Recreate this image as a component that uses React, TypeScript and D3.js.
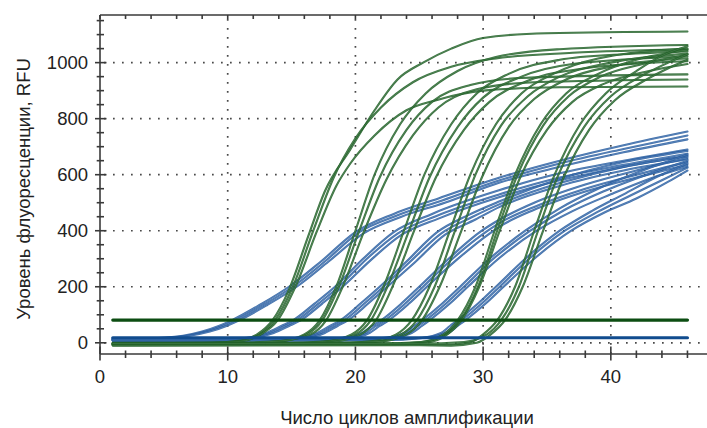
import React from "react";
import * as d3 from "d3";

type Pt = [number, number];

// ---------- axis / tick data ----------
const xTicks = [0, 10, 20, 30, 40];
const xMinorTicks = [2, 4, 6, 8, 12, 14, 16, 18, 22, 24, 26, 28, 32, 34, 36, 38, 42, 44, 46];
const yTicks = [0, 200, 400, 600, 800, 1000];
const yMinorTicks = [50, 100, 150, 250, 300, 350, 450, 500, 550, 650, 700, 750, 850, 900, 950, 1050, 1100, 1150];
const xTitle = "Число циклов амплификации";
const yTitle = "Уровень флуоресценции, RFU";

// ---------- thresholds ----------
const greenThreshold = 81;
const blueThreshold = 18;
const thresholdCycles = [1, 46];

// ---------- green (steep) amplification curves: [cycle, RFU] ----------
const greenA: Pt[][] = [
  [[1,-4],[8,-2],[11,8],[12.3,30],[13.5,80],[14.8,190],[16.3,380],[17.6,540],[19.6,690],[21.5,830],[23.3,940],[25.3,1000],[27.5,1050],[30,1088],[35,1105],[46,1111]],
  [[1,-8],[8,-5],[11,6],[12.5,30],[13.7,80],[15.1,200],[16.7,400],[18.3,590],[20,730],[22,840],[24.5,930],[27.5,985],[31,1015],[37,1035],[46,1048]],
  [[1,-2],[8,0],[11,5],[12.6,30],[13.9,80],[15.3,200],[17,400],[18.5,560],[19.6,640],[21.5,740],[24,830],[26.4,867],[30,900],[36,912],[46,915]],
];
const greenB: Pt[][] = [
  [[1,-3],[11,-2],[14,5],[16,30],[17.2,80],[18.5,200],[20,400],[21.5,600],[23.5,780],[25.5,890],[28,970],[31,1020],[36,1048],[46,1063]],
  [[1,-6],[11,-4],[14,4],[16.2,30],[17.4,80],[18.7,200],[20.3,400],[21.9,590],[24,760],[26,860],[29,920],[33,945],[46,958]],
  [[1,0],[11,1],[14,6],[16.5,30],[17.7,80],[19,200],[20.7,400],[22.4,580],[24.5,740],[26.5,840],[29.5,905],[34,930],[46,940]],
];
const greenC: Pt[][] = [
  [[1,-5],[14,-4],[17.5,4],[19.7,30],[20.9,80],[22.2,200],[23.8,400],[25.4,600],[27.5,780],[29.5,890],[32,960],[36,1010],[41,1030],[46,1040]],
  [[1,-2],[14,-1],[17.8,5],[20,30],[21.2,80],[22.5,200],[24.2,400],[25.8,590],[28,770],[30,875],[33,950],[37,995],[46,1022]],
  [[1,-9],[14,-7],[18.2,3],[20.4,30],[21.6,80],[22.9,200],[24.6,400],[26.3,590],[28.5,760],[30.5,860],[33.5,935],[38,980],[46,1005]],
];
const greenD: Pt[][] = [
  [[1,-3],[18,-3],[21.2,5],[23.2,30],[24.4,80],[25.8,200],[27.4,400],[29,600],[31,780],[33,890],[35.5,960],[39,1015],[46,1050]],
  [[1,-6],[18,-5],[21.6,3],[23.6,30],[24.8,80],[26.2,200],[27.8,400],[29.4,600],[31.4,775],[33.5,880],[36,950],[40,1000],[46,1032]],
  [[1,-1],[18,0],[22,5],[24,30],[25.2,80],[26.6,200],[28.3,400],[29.9,590],[32,770],[34,870],[36.5,940],[40.5,990],[46,1015]],
];
const greenE: Pt[][] = [
  [[1,-4],[22,-5],[25,2],[26.9,30],[28,80],[29.4,200],[30.9,400],[32.5,600],[34.5,780],[36.5,890],[39,960],[42,1010],[46,1045]],
  [[1,-2],[22,-2],[25.2,3],[27.1,30],[28.2,80],[29.6,200],[31.1,400],[32.7,600],[34.7,775],[36.7,880],[39.2,950],[42.5,995],[46,1028]],
  [[1,-7],[22,-8],[25.5,0],[27.2,30],[28.3,80],[29.7,200],[31.3,400],[32.9,590],[35,760],[37,860],[39.5,925],[43,970],[46,995]],
];
const greenF: Pt[][] = [
  [[1,-5],[25,-6],[27,-8],[29,2],[30,30],[31.1,80],[32.5,200],[34,400],[35.6,600],[37.6,780],[39.6,890],[42,970],[44,1025],[46,1058]],
  [[1,-3],[25,-3],[28.5,3],[30.3,30],[31.4,80],[32.8,200],[34.3,400],[35.9,600],[37.9,770],[40,880],[42.5,955],[44.5,1000],[46,1030]],
  [[1,-10],[25,-9],[27.5,-10],[29.5,0],[30.6,30],[31.7,80],[33.1,200],[34.7,400],[36.3,590],[38.3,760],[40.3,865],[42.8,940],[44.5,980],[46,1010]],
];

// ---------- blue (shallow) amplification curves: [cycle, RFU] ----------
const blue1: Pt[][] = [
  [[1,14],[3,15],[5,18],[6.5,25],[8,40],[9.3,60],[10.3,80],[12.5,135],[14.8,200],[17.3,290],[20,395],[23,460],[26.5,515],[31.3,590],[36,650],[41,705],[46,754]],
  [[1,12],[3,13],[5,16],[6.8,25],[8.3,40],[9.6,60],[10.6,80],[12.8,135],[15.1,200],[17.6,290],[20.3,395],[23.3,455],[26.8,508],[31.3,580],[36,640],[41,692],[46,740]],
  [[1,16],[3,16],[5,18],[7,25],[8.6,40],[9.9,60],[10.9,80],[13.1,135],[15.4,200],[17.9,290],[20.6,390],[23.6,450],[27,500],[31.3,572],[36,628],[41,680],[46,726]],
];
const blue2: Pt[][] = [
  [[1,10],[9,11],[11.5,18],[13,35],[14.2,60],[15.1,80],[16.8,140],[18.4,200],[20.6,300],[23,395],[26,460],[31.3,545],[36,605],[41,650],[46,690]],
  [[1,13],[9,13],[11.8,18],[13.3,35],[14.5,60],[15.4,80],[17.1,140],[18.7,200],[20.9,300],[23.3,390],[26.3,452],[31.3,530],[36,590],[41,635],[46,675]],
  [[1,8],[9,9],[12.1,18],[13.6,35],[14.8,60],[15.7,80],[17.4,140],[19,200],[21.2,295],[23.6,385],[26.6,445],[31.3,520],[36,580],[41,628],[46,668]],
];
const blue3: Pt[][] = [
  [[1,12],[13,12],[15.5,18],[17,35],[18,60],[18.8,80],[20.4,140],[21.9,200],[24,290],[26.4,395],[28.8,455],[31.3,505],[36,585],[41,645],[46,685]],
  [[1,9],[13,10],[15.8,18],[17.3,35],[18.3,60],[19.1,80],[20.7,140],[22.2,200],[24.3,290],[26.7,390],[29.1,448],[31.3,495],[36,570],[41,628],[46,665]],
  [[1,14],[13,14],[16.1,18],[17.6,35],[18.6,60],[19.4,80],[21,140],[22.5,200],[24.6,285],[27,385],[29.4,440],[31.3,485],[36,560],[41,615],[46,655]],
];
const blue4: Pt[][] = [
  [[1,11],[16,11],[19,18],[20.5,35],[21.3,60],[22,80],[23.6,140],[25,200],[27.3,300],[29.9,400],[31.3,440],[34,500],[38,565],[42,615],[46,660]],
  [[1,8],[16,9],[19.3,18],[20.8,35],[21.6,60],[22.3,80],[23.9,140],[25.3,200],[27.6,300],[30.2,395],[31.3,428],[34,485],[38,550],[42,600],[46,645]],
  [[1,13],[16,13],[19.6,18],[21.1,35],[21.9,60],[22.6,80],[24.2,140],[25.6,200],[27.9,295],[30.5,390],[31.3,415],[34,475],[38,540],[42,590],[46,635]],
];
const blue5: Pt[][] = [
  [[1,10],[19,10],[22.3,18],[23.8,35],[24.6,60],[25.2,80],[26.8,140],[28.2,200],[30.5,300],[33.3,400],[36,480],[39,550],[42.5,615],[46,672]],
  [[1,12],[19,12],[22.6,18],[24.1,35],[24.9,60],[25.5,80],[27.1,140],[28.5,200],[30.8,300],[33.7,400],[36.4,475],[39.4,540],[42.8,600],[46,650]],
  [[1,7],[19,8],[22.9,18],[24.4,35],[25.2,60],[25.8,80],[27.4,140],[28.8,200],[31.2,300],[34.2,400],[37,470],[40,530],[43,585],[46,628]],
];
const blue6: Pt[][] = [
  [[1,11],[22,11],[25.2,18],[26.7,35],[27.4,60],[28,80],[29.6,140],[31,200],[33.3,300],[36,400],[38.5,470],[41,530],[43.5,590],[46,640]],
  [[1,9],[22,9],[25.5,18],[27,35],[27.7,60],[28.3,80],[29.9,140],[31.3,200],[33.6,300],[36.4,400],[39,468],[41.5,525],[44,580],[46,625]],
  [[1,13],[22,14],[25.8,18],[27.3,35],[28,60],[28.6,80],[30.2,140],[31.6,200],[34,300],[36.9,400],[39.5,465],[42,515],[44.5,575],[46,615]],
];

const greenCurves = [...greenA, ...greenB, ...greenC, ...greenD, ...greenE, ...greenF];
const blueCurves = [...blue1, ...blue2, ...blue3, ...blue4, ...blue5, ...blue6];

const FONT = "'Liberation Sans', Arial, Helvetica, sans-serif";

export default function App() {
  const W = 707, H = 428;
  const left = 100, right = 707, top = 15, bottom = 354;
  const x = d3.scaleLinear().domain([0, 47.53]).range([left, right]);
  const y = d3.scaleLinear().domain([-40, 1170]).range([bottom, top]);
  const line = d3.line<Pt>().x(d => x(d[0])).y(d => y(d[1])).curve(d3.curveMonotoneX);

  const axisColor = "#3a3a3a";
  const gridColor = "#4a4a4a";

  return (
    <svg width={W} height={H} style={{ position: "absolute", left: 0, top: 0, background: "#fff" }} fontFamily={FONT}>
      <defs>
        <clipPath id="plot">
          <rect x={left} y={top} width={right - left} height={bottom - top} />
        </clipPath>
      </defs>

      {/* grid */}
      <g stroke={gridColor} strokeWidth={1.7} strokeDasharray="1.7 7.3" fill="none">
        {xTicks.filter(t => t !== 0).map(t => (
          <line key={"gx" + t} x1={x(t)} x2={x(t)} y1={top + 4} y2={bottom} />
        ))}
        {yTicks.map(t => (
          <line key={"gy" + t} x1={left + 4} x2={right} y1={y(t)} y2={y(t)} />
        ))}
      </g>

      <g clipPath="url(#plot)" fill="none" strokeLinecap="round" strokeLinejoin="round">
        {blueCurves.map((c, i) => (
          <g key={"b" + i}>
            <path d={line(c) || ""} stroke="#22589c" strokeWidth={2.1} strokeOpacity={0.85} />
            <path d={line(c) || ""} stroke="#8fb0d8" strokeWidth={0.6} strokeOpacity={0.45} />
          </g>
        ))}
        {greenCurves.map((c, i) => (
          <g key={"g" + i}>
            <path d={line(c) || ""} stroke="#1f5f26" strokeWidth={2.1} strokeOpacity={0.88} />
            <path d={line(c) || ""} stroke="#86b088" strokeWidth={0.6} strokeOpacity={0.45} />
          </g>
        ))}
        <line x1={x(thresholdCycles[0])} x2={x(thresholdCycles[1])} y1={y(blueThreshold)} y2={y(blueThreshold)} stroke="#114c8e" strokeWidth={3.2} />
        <line x1={x(thresholdCycles[0])} x2={x(thresholdCycles[1])} y1={y(greenThreshold)} y2={y(greenThreshold)} stroke="#0c4d12" strokeWidth={3.2} />
      </g>

      {/* axes frame */}
      <g stroke={axisColor} strokeWidth={1.6} fill="none">
        <line x1={left} x2={right} y1={top} y2={top} />
        <line x1={left} x2={right} y1={bottom} y2={bottom} />
        <line x1={left} x2={left} y1={top} y2={bottom} />
        {xTicks.map(t => (
          <line key={"xt" + t} x1={x(t)} x2={x(t)} y1={bottom - 7.5} y2={bottom + 6.5} />
        ))}
        {xMinorTicks.map(t => (
          <line key={"xm" + t} x1={x(t)} x2={x(t)} y1={bottom - 3.5} y2={bottom + 4} />
        ))}
        {xTicks.concat(xMinorTicks).map(t => (
          <line key={"xtt" + t} x1={x(t)} x2={x(t)} y1={top} y2={top + 4} />
        ))}
        {yTicks.map(t => (
          <line key={"yt" + t} x1={left - 5} x2={left + 6.5} y1={y(t)} y2={y(t)} />
        ))}
        {yMinorTicks.map(t => (
          <line key={"ym" + t} x1={left - 3.3} x2={left + 4} y1={y(t)} y2={y(t)} />
        ))}
      </g>

      {/* tick labels */}
      <g fill="#222" fontSize={18.5}>
        {xTicks.map(t => (
          <text key={"xl" + t} x={x(t)} y={383} textAnchor="middle">{t}</text>
        ))}
        {yTicks.map(t => (
          <text key={"yl" + t} x={88} y={y(t) + 6.5} textAnchor="end">{t}</text>
        ))}
      </g>

      <text x={407} y={424} textAnchor="middle" fontSize={18.5} fill="#222">{xTitle}</text>
      <text transform={`translate(30, 189) rotate(-90)`} textAnchor="middle" fontSize={18.5} fill="#222">{yTitle}</text>
    </svg>
  );
}
